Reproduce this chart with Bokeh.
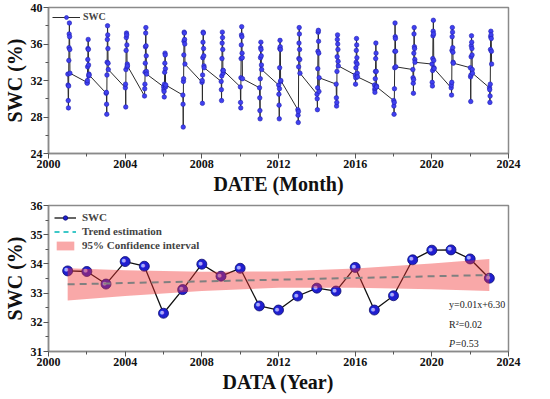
from bokeh.plotting import figure
from bokeh.layouts import column
from bokeh.models import FixedTicker, Legend, LegendItem, Label, Range1d
from bokeh.core.properties import value
from bokeh.embed import file_html
from bokeh.resources import INLINE

FONT = "Liberation Serif"

# ---------------- data ----------------
years = list(range(2001, 2024))
months = list(range(1, 13))

m2001 = [32.7, 31.5, 29.8, 29.0, 31.4, 34.2, 35.6, 37.1, 38.3, 36.8, 35.4, 32.8]
m2002 = [31.8, 31.7, 32.0, 33.5, 34.3, 35.5, 36.5, 35.4, 33.7, 32.5, 32.7, 32.6]
m2003 = [30.6, 30.7, 29.4, 28.3, 32.6, 34.0, 36.5, 38.0, 37.0, 35.5, 33.9, 33.2]
m2004 = [31.2, 31.6, 29.1, 33.2, 35.3, 36.7, 37.2, 37.0, 35.9, 33.5, 33.8, 33.6]
m2005 = [30.3, 31.1, 31.6, 32.9, 33.9, 35.7, 37.2, 37.8, 35.8, 34.7, 33.0, 32.7]
m2006 = [31.3, 31.0, 30.8, 30.2, 31.6, 32.9, 33.9, 35.0, 34.8, 33.3, 31.3, 31.5]
m2007 = [30.4, 29.4, 26.9, 31.9, 32.2, 34.8, 36.3, 37.3, 37.2, 36.5, 36.0, 33.8]
m2008 = [31.8, 32.0, 29.5, 32.6, 34.5, 36.2, 37.3, 37.2, 35.5, 34.7, 33.6, 33.4]
m2009 = [31.9, 31.0, 29.8, 32.5, 34.4, 36.1, 37.3, 36.7, 35.4, 33.1, 32.8, 33.1]
m2010 = [31.3, 29.6, 29.0, 32.3, 34.4, 35.9, 37.0, 37.9, 36.8, 35.0, 34.5, 32.2]
m2011 = [31.2, 30.1, 28.7, 27.8, 32.2, 34.5, 35.6, 36.2, 35.4, 34.7, 33.7, 33.2]
m2012 = [31.5, 30.5, 29.3, 27.8, 31.1, 33.4, 35.5, 36.4, 35.7, 35.4, 31.9, 32.0]
m2013 = [28.8, 28.2, 27.4, 28.6, 33.5, 34.4, 36.1, 37.8, 37.1, 35.4, 34.3, 32.8]
m2014 = [30.5, 30.0, 28.8, 31.2, 33.3, 35.2, 37.3, 37.5, 36.3, 35.0, 30.8, 32.3]
m2015 = [31.6, 30.1, 29.2, 29.6, 33.0, 34.6, 36.5, 37.0, 36.0, 35.4, 34.1, 33.6]
m2016 = [32.6, 31.6, 32.3, 33.4, 34.0, 35.3, 36.6, 35.9, 34.5, 33.8, 32.8, 32.4]
m2017 = [31.5, 31.0, 30.7, 31.2, 32.2, 33.0, 34.4, 36.1, 35.0, 33.0, 31.4, 31.3]
m2018 = [29.8, 29.2, 28.3, 29.6, 31.1, 33.4, 35.2, 38.3, 36.8, 36.6, 35.2, 33.5]
m2019 = [33.2, 32.3, 31.7, 30.6, 32.1, 35.0, 37.1, 37.8, 35.7, 35.5, 34.3, 34.0]
m2020 = [33.8, 31.8, 31.4, 33.1, 34.4, 36.9, 37.4, 38.6, 37.1, 34.2, 33.4, 33.3]
m2021 = [31.2, 31.5, 30.4, 31.8, 35.3, 36.8, 37.8, 37.3, 35.6, 35.1, 34.0, 33.9]
m2022 = [33.4, 32.4, 29.7, 32.6, 34.6, 35.8, 36.9, 36.2, 35.5, 34.8, 33.2, 32.8]
m2023 = [31.2, 31.0, 29.6, 30.3, 31.6, 35.4, 36.8, 37.4, 37.0, 36.6, 35.2, 33.8]

monthly = [m2001, m2002, m2003, m2004, m2005, m2006, m2007, m2008, m2009, m2010,
           m2011, m2012, m2013, m2014, m2015, m2016, m2017, m2018, m2019, m2020,
           m2021, m2022, m2023]

annual_swc = [33.76, 33.74, 33.31, 34.08, 33.92, 32.31, 33.12, 33.99, 33.58, 33.85,
              32.56, 32.42, 32.90, 33.17, 33.07, 33.88, 32.42, 32.91, 34.14, 34.47,
              34.48, 34.17, 33.51]

trend_years = [2001, 2023]
trend_vals = [33.30, 33.62]

ci_years = [2001, 2004, 2008, 2012, 2016, 2020, 2023]
ci_upper = [33.85, 33.78, 33.73, 33.74, 33.84, 34.01, 34.17]
ci_lower = [32.75, 32.90, 33.07, 33.18, 33.18, 33.13, 33.07]

x_ticks = [2000, 2004, 2008, 2012, 2016, 2020, 2024]
x_minor = [2002, 2006, 2010, 2014, 2018, 2022]
y1_ticks = [24, 28, 32, 36, 40]
y1_minor = [26, 30, 34, 38]
y2_ticks = [31, 32, 33, 34, 35, 36]
y2_minor = [31.5, 32.5, 33.5, 34.5, 35.5]

# date encoding year.month (e.g. 2001.01 ... 2001.12)
mx = [y + m / 100 for y in years for m in months]
my = [v for vals in monthly for v in vals]


def style(p, yt, ym):
    p.xaxis.ticker = FixedTicker(ticks=x_ticks, minor_ticks=x_minor)
    p.yaxis.ticker = FixedTicker(ticks=yt, minor_ticks=ym)
    p.xgrid.visible = False
    p.ygrid.visible = False
    p.outline_line_color = "#8a8a8a"
    p.outline_line_width = 1.5
    p.outline_line_alpha = 1
    for ax in (p.xaxis[0], p.yaxis[0]):
        ax.axis_line_color = "#8a8a8a"
        ax.axis_line_width = 1.5
        ax.major_tick_line_color = "#555555"
        ax.minor_tick_line_color = "#555555"
        ax.major_tick_out = 5
        ax.major_tick_in = 0
        ax.minor_tick_out = 3
        ax.minor_tick_in = 0
        ax.major_label_text_font = FONT
        ax.major_label_text_font_size = "12px"
        ax.major_label_text_font_style = "bold"
        ax.major_label_text_color = "#111111"
        ax.major_label_standoff = 1
        ax.axis_label_text_font = FONT
        ax.axis_label_text_font_size = "20px"
        ax.axis_label_text_font_style = "bold"
        ax.axis_label_text_color = "#111111"
        ax.axis_label_standoff = 2
    p.background_fill_color = "white"
    p.border_fill_color = "white"


# ---------------- top figure ----------------
p1 = figure(frame_width=460, frame_height=146, output_backend="svg", toolbar_location=None,
            x_range=Range1d(2000, 2024), y_range=Range1d(24, 40),
            min_border_top=7, min_border_right=20, min_border_left=2, min_border_bottom=2)
p1.xaxis.axis_label = "DATE (Month)"
p1.yaxis.axis_label = "SWC (%)"
style(p1, y1_ticks, y1_minor)

l1 = p1.line(mx, my, line_color="#2b2b2b", line_width=1)
s1 = p1.scatter(mx, my, size=4.5, fill_color="#4040f0", line_color="#2020b0", line_width=0.6)

leg1 = Legend(items=[LegendItem(label="SWC", renderers=[l1, s1])], location="top_left")
leg1.label_text_font = FONT
leg1.label_text_font_size = "10px"
leg1.label_text_font_style = "bold"
leg1.glyph_width = 28
leg1.glyph_height = 10
leg1.padding = 1
leg1.margin = 3
leg1.label_standoff = 3
leg1.background_fill_alpha = 0
leg1.border_line_alpha = 0
p1.add_layout(leg1)

# ---------------- bottom figure ----------------
p2 = figure(frame_width=460, frame_height=146, output_backend="svg", toolbar_location=None,
            x_range=Range1d(2000, 2024), y_range=Range1d(31, 36),
            min_border_top=8, min_border_right=20, min_border_left=2, min_border_bottom=2)
p2.xaxis.axis_label = "DATA (Year)"
p2.yaxis.axis_label = "SWC (%)"
style(p2, y2_ticks, y2_minor)

l2 = p2.line(years, annual_swc, line_color="#111111", line_width=1.3)
s2 = p2.scatter(years, annual_swc, size=10, fill_color="#1f1fd0", line_color="#0c0c70",
                line_width=0.8)
hl = p2.text(x=years, y=annual_swc, text=value("\u25CF"), text_font=value("DejaVu Sans"),
             text_font_size="5px", text_color="#a8a8ff", x_offset=-1.5, y_offset=-1.5,
             text_align="center", text_baseline="middle")
band = p2.varea(x=ci_years, y1=ci_lower, y2=ci_upper, fill_color="#f03030", fill_alpha=0.42)
tr = p2.line(trend_years, trend_vals, line_color="#808080", line_width=2, line_dash="7 5")
# cyan swatch for the legend only: a zero-length segment at the trend start (draws nothing)
tr_leg = p2.segment(x0=trend_years[:1], y0=trend_vals[:1], x1=trend_years[:1], y1=trend_vals[:1],
                    line_color="#3cc8c8", line_width=2, line_dash="5 4", line_cap="butt")

leg2 = Legend(items=[LegendItem(label="SWC", renderers=[l2, s2]),
                     LegendItem(label="Trend estimation", renderers=[tr_leg]),
                     LegendItem(label="95% Confidence interval", renderers=[band])],
              location="top_left")
leg2.label_text_font = FONT
leg2.label_text_font_size = "11px"
leg2.label_text_font_style = "bold"
leg2.glyph_width = 22
leg2.glyph_height = 11
leg2.padding = 2
leg2.margin = 4
leg2.spacing = 2
leg2.label_standoff = 6
leg2.label_height = 12
leg2.background_fill_alpha = 0
leg2.border_line_alpha = 0
p2.add_layout(leg2)

for txt, yy in [("y=0.01x+6.30", 32.6), ("R\u00b2=0.02", 31.92)]:
    p2.add_layout(Label(x=2020.9, y=yy, text=txt, text_font=FONT, text_font_size="10px",
                        text_color="#222222", text_baseline="middle"))
p2.add_layout(Label(x=2020.9, y=31.28, text="P", text_font=FONT, text_font_size="10px",
                    text_font_style="italic", text_color="#222222", text_baseline="middle"))
p2.add_layout(Label(x=2020.9, y=31.28, x_offset=6.5, text="=0.53", text_font=FONT,
                    text_font_size="10px", text_color="#222222", text_baseline="middle"))

layout = column(p1, p2, spacing=0)
open("out.html", "w").write(file_html(layout, INLINE))
